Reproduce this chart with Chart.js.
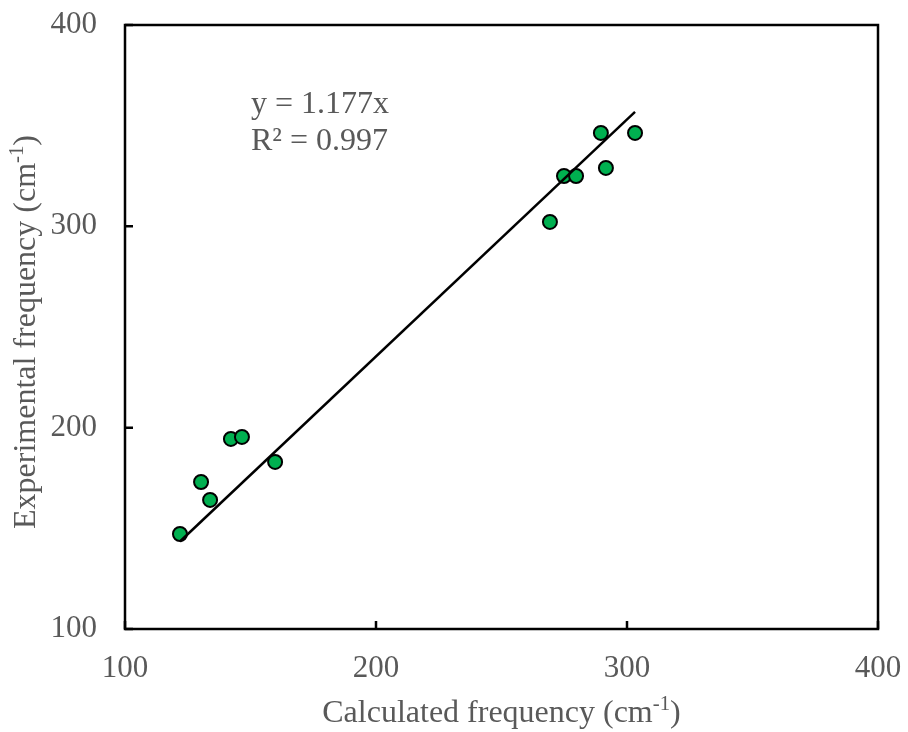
<!DOCTYPE html>
<html>
<head>
<meta charset="utf-8">
<script src="https://cdn.jsdelivr.net/npm/chart.js@4.4.1/dist/chart.umd.min.js"></script>
<style>
  html, body { margin: 0; padding: 0; background: #fff; }
  #wrap { width: 908px; height: 732px; }
</style>
</head>
<body>
<div id="wrap"><canvas id="chart" width="908" height="732"></canvas></div>
<script>
// calculated vs experimental frequencies (cm-1)
const calcFreq = [121.9, 130.3, 133.9, 142.2, 146.6, 159.8, 269.3, 274.9, 279.7, 289.6, 291.6, 303.2];
const expFreq  = [147.2, 173.0, 164.1, 194.4, 195.4, 183.0, 302.2, 325.0, 325.0, 346.4, 329.0, 346.4];

// linear trendline through origin
const slope = 1.177;
const rSquared = 0.997;

const axisMin = 100;
const axisMax = 400;
const axisStep = 100;

const textColor = '#595959';
const fontFamily = '"Liberation Serif", "Times New Roman", serif';

const points = calcFreq.map((x, i) => ({ x: x, y: expFreq[i] }));
const xLo = Math.min(...calcFreq);
const xHi = Math.max(...calcFreq);
const trend = [{ x: xLo, y: slope * xLo }, { x: xHi, y: slope * xHi }];

// draw text with a superscript part
function drawSup(ctx, parts, x, y, size) {
    let total = 0;
    parts.forEach(p => {
        ctx.font = (p.sup ? size * 0.65 : size) + 'px ' + fontFamily;
        p.w = ctx.measureText(p.t).width;
        total += p.w;
    });
    let cx = x - total / 2;
    parts.forEach(p => {
        ctx.font = (p.sup ? size * 0.65 : size) + 'px ' + fontFamily;
        ctx.fillText(p.t, cx, p.sup ? y - size * 0.38 : y);
        cx += p.w;
    });
}

const framePlugin = {
    id: 'frame',
    afterDraw(chart) {
        const ctx = chart.ctx;
        const a = chart.chartArea;
        const xs = chart.scales.x;
        const ys = chart.scales.y;
        ctx.save();
        ctx.strokeStyle = '#000';
        ctx.lineWidth = 2.5;
        ctx.strokeRect(a.left, a.top, a.right - a.left, a.bottom - a.top);
        // inside tick marks
        ctx.beginPath();
        xs.ticks.forEach(t => {
            const px = xs.getPixelForValue(t.value);
            ctx.moveTo(px, a.bottom);
            ctx.lineTo(px, a.bottom - 8);
        });
        ys.ticks.forEach(t => {
            const py = ys.getPixelForValue(t.value);
            ctx.moveTo(a.left, py);
            ctx.lineTo(a.left + 8, py);
        });
        ctx.stroke();

        ctx.fillStyle = textColor;
        ctx.textBaseline = 'alphabetic';
        ctx.textAlign = 'left';
        // x axis title
        drawSup(ctx, [{ t: 'Calculated frequency (cm' }, { t: '-1', sup: true }, { t: ')' }],
            (a.left + a.right) / 2, 722, 32);
        // y axis title
        ctx.save();
        ctx.translate(35, 332);
        ctx.rotate(-Math.PI / 2);
        drawSup(ctx, [{ t: 'Experimental frequency (cm' }, { t: '-1', sup: true }, { t: ')' }], 0, 0, 32);
        ctx.restore();

        // trendline equation
        ctx.font = '32px ' + fontFamily;
        ctx.fillText('y = ' + slope + 'x', 251, 113);
        ctx.fillText('R\u00B2 = ' + rSquared, 251, 150);
        ctx.restore();
    }
};

new Chart(document.getElementById('chart').getContext('2d'), {
    type: 'scatter',
    data: {
        datasets: [{
            label: 'Linear',
            data: trend,
            showLine: true,
            borderColor: '#000',
            borderWidth: 2.5,
            pointRadius: 0,
            fill: false
        }, {
            label: 'Frequency',
            data: points,
            pointRadius: 7,
            pointHoverRadius: 7,
            backgroundColor: '#00B050',
            borderColor: '#000',
            borderWidth: 2
        }]
    },
    options: {
        responsive: false,
        animation: false,
        layout: { padding: { top: 25, right: 30, left: 0, bottom: 0 } },
        plugins: {
            legend: { display: false },
            tooltip: { enabled: false }
        },
        scales: {
            x: {
                type: 'linear',
                min: axisMin,
                max: axisMax,
                grid: { display: false, drawTicks: false },
                border: { display: false },
                ticks: {
                    stepSize: axisStep,
                    padding: 21,
                    color: textColor,
                    font: { family: fontFamily, size: 31 },
                    maxRotation: 0
                },
                afterFit(scale) {
                    scale.height = 103;
                    scale.paddingLeft = 0;
                    scale.paddingRight = 0;
                }
            },
            y: {
                type: 'linear',
                min: axisMin,
                max: axisMax,
                grid: { display: false, drawTicks: false },
                border: { display: false },
                ticks: {
                    stepSize: axisStep,
                    padding: 28,
                    color: textColor,
                    font: { family: fontFamily, size: 31 }
                },
                afterFit(scale) {
                    scale.width = 125;
                    scale.paddingTop = 0;
                    scale.paddingBottom = 0;
                }
            }
        }
    },
    plugins: [framePlugin]
});
</script>
</body>
</html>
